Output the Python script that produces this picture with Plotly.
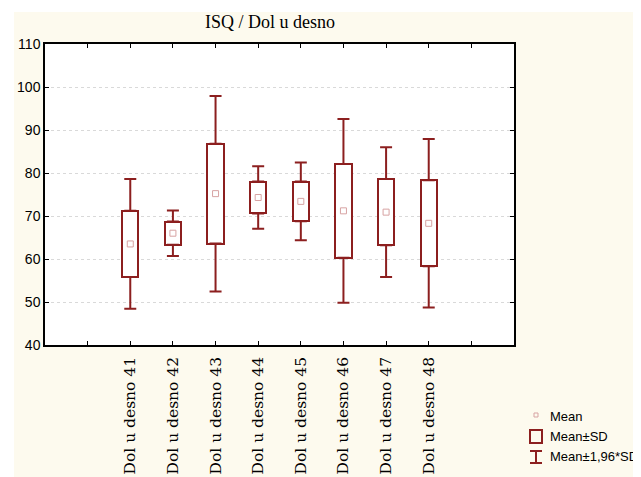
import plotly.graph_objects as go

# ---- data ----
categories = ["ISQ Dol u desno 41", "ISQ Dol u desno 42", "ISQ Dol u desno 43", "ISQ Dol u desno 44",
              "ISQ Dol u desno 45", "ISQ Dol u desno 46", "ISQ Dol u desno 47", "ISQ Dol u desno 48"]
means = [63.5, 66.0, 75.2, 74.3, 73.4, 71.2, 70.9, 68.3]
sds = [7.7, 2.7, 11.6, 3.7, 4.6, 10.9, 7.7, 10.0]
y_ticks = [40, 50, 60, 70, 80, 90, 100, 110]
legend_labels = ["Mean", "Mean±SD", "Mean±1,96*SD"]
title_text = "ISQ / Dol u desno"

# ---- styling ----
OFF = 8  # default page body margin
PAGE_W, PAGE_H = 641, 477
W, H = PAGE_W - OFF, PAGE_H - OFF
L, R, T, B = 45 - OFF, 127, 44 - OFF, 132
RED = "#8c1f1f"
PINK = "#d7a3a3"
CREAM = "#fdfaee"
pw, ph = W - L - R, H - T - B

def px_x(px):  # page pixel -> paper
    return (px - OFF - L) / pw

def px_y(py):
    return (H - B - (py - OFF)) / ph

pad_left, pad_right = " ", "  "
cat_order = [pad_left] + categories + [pad_right]

box_low = [m - s for m, s in zip(means, sds)]
box_high = [m + s for m, s in zip(means, sds)]
box_height = [2 * s for s in sds]
whisk_ext = [0.96 * s for s in sds]

fig = go.Figure()

fig.add_trace(go.Bar(
    x=categories, y=box_height, base=box_low, width=0.38,
    marker=dict(color="white", line=dict(color=RED, width=2)),
    showlegend=False, hoverinfo="skip",
))
fig.add_trace(go.Scatter(
    x=categories, y=box_high, mode="markers", marker=dict(size=1, opacity=0),
    error_y=dict(type="data", symmetric=False, array=whisk_ext, arrayminus=[0] * len(sds),
                 color=RED, thickness=2, width=6),
    showlegend=False, hoverinfo="skip",
))
fig.add_trace(go.Scatter(
    x=categories, y=box_low, mode="markers", marker=dict(size=1, opacity=0),
    error_y=dict(type="data", symmetric=False, array=[0] * len(sds), arrayminus=whisk_ext,
                 color=RED, thickness=2, width=6),
    showlegend=False, hoverinfo="skip",
))
fig.add_trace(go.Scatter(
    x=categories, y=means, mode="markers",
    marker=dict(symbol="square-open", size=6, color=PINK, line=dict(width=1, color=PINK)),
    showlegend=False,
))

shapes = [
    dict(type="rect", xref="paper", yref="paper", x0=px_x(14), x1=px_x(PAGE_W + 5), y0=px_y(PAGE_H + 5), y1=px_y(12),
         fillcolor=CREAM, line=dict(width=0), layer="below"),
    dict(type="rect", xref="paper", yref="paper", x0=0, x1=1, y0=0, y1=1,
         fillcolor="white", line=dict(width=0), layer="below"),
    # legend symbols
    dict(type="rect", xref="paper", yref="paper", x0=px_x(534), x1=px_x(538), y0=px_y(417), y1=px_y(413),
         fillcolor="rgba(0,0,0,0)", line=dict(color=PINK, width=1)),
    dict(type="rect", xref="paper", yref="paper", x0=px_x(530), x1=px_x(542), y0=px_y(443), y1=px_y(430),
         fillcolor="rgba(0,0,0,0)", line=dict(color=RED, width=2)),
    dict(type="line", xref="paper", yref="paper", x0=px_x(536), x1=px_x(536), y0=px_y(463), y1=px_y(451),
         line=dict(color=RED, width=2)),
    dict(type="line", xref="paper", yref="paper", x0=px_x(530), x1=px_x(542), y0=px_y(451), y1=px_y(451),
         line=dict(color=RED, width=2)),
    dict(type="line", xref="paper", yref="paper", x0=px_x(530), x1=px_x(542), y0=px_y(463), y1=px_y(463),
         line=dict(color=RED, width=2)),
]

annotations = [
    dict(text=title_text, xref="paper", yref="paper", x=px_x(270), y=px_y(22), xanchor="center", yanchor="middle",
         showarrow=False, font=dict(family="Liberation Serif", size=18, color="black")),
]
for lab, py in zip(legend_labels, [416, 436, 456]):
    annotations.append(dict(text=lab, xref="paper", yref="paper", x=px_x(548), y=px_y(py),
                            xanchor="left", yanchor="middle", showarrow=False,
                            font=dict(family="Liberation Sans", size=13, color="black")))

fig.update_layout(
    width=W, height=H,
    margin=dict(l=L, r=R, t=T, b=B, autoexpand=False),
    paper_bgcolor="white", plot_bgcolor="white",
    showlegend=False, bargap=0,
    shapes=shapes, annotations=annotations,
    xaxis=dict(type="category", categoryorder="array", categoryarray=cat_order,
               range=[-1, len(cat_order)], tickmode="array", tickvals=cat_order,
               ticktext=[""] + categories + [""], tickangle=-90,
               showline=True, linecolor="black", linewidth=1.5, mirror="ticks",
               ticks="inside", ticklen=4, tickcolor="black", showgrid=False,
               tickfont=dict(family="DejaVu Serif", size=15.5, color="black"),
               automargin=False, ticklabelstandoff=4),
    yaxis=dict(range=[40, 110], tickvals=y_ticks,
               showline=True, linecolor="black", linewidth=1.5, mirror="ticks",
               ticks="inside", ticklen=4, tickcolor="black",
               showgrid=True, gridcolor="#d9d9d9", griddash="dot", gridwidth=1,
               zeroline=False,
               tickfont=dict(family="Liberation Sans", size=14, color="black"),
               automargin=False),
)

fig.write_html("out.html")
